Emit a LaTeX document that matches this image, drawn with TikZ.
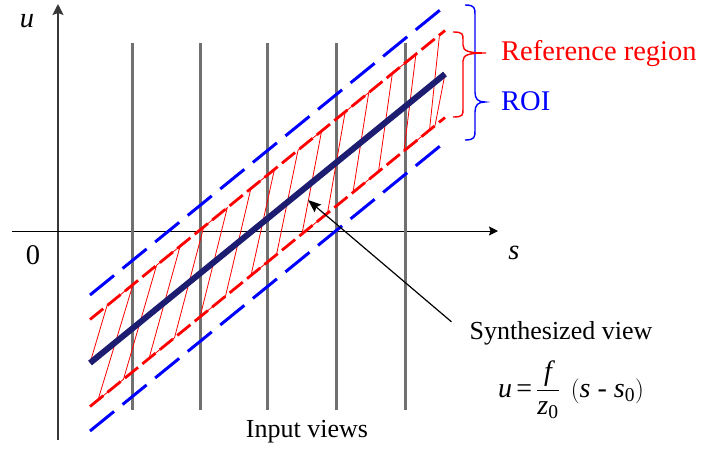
\documentclass[tikz,border=0pt]{standalone}
\usepackage{amsmath}
\usepackage{fontspec}
\setmainfont{Liberation Serif}
\usetikzlibrary{arrows.meta,calc}
\definecolor{navyline}{RGB}{28,28,112}
\definecolor{vgray}{RGB}{112,112,112}
\definecolor{axgray}{RGB}{55,55,55}
\definecolor{pred}{RGB}{255,0,0}
\definecolor{pblue}{RGB}{0,0,255}
\tikzset{
  axisline/.style={line width=1.4pt, draw=axgray},
  viewline/.style={line width=3pt, draw=vgray},
  thinred/.style={line width=0.8pt, draw=pred, line join=miter},
  reddash/.style={line width=2.8pt, draw=pred, dash pattern=on 17pt off 5.5pt},
  bluedash/.style={line width=3pt, draw=pblue, dash pattern=on 31pt off 11pt},
  synthline/.style={line width=6pt, draw=navyline},
  bracepath/.style={line width=1.4pt},
  lbl/.style={inner sep=0pt, font=\fontsize{26}{30}\selectfont},
  biglbl/.style={inner sep=0pt, font=\fontsize{28.5}{32}\selectfont},
}
\begin{document}
\begin{tikzpicture}[x=1pt,y=-1pt]
\useasboundingbox (0,0) rectangle (704,451);
% axes
\coordinate (uaxbot) at (58,440);
\coordinate (uaxtop) at (58,4);
\coordinate (saxl) at (12,231);
\coordinate (saxr) at (498,231);
\draw[axisline, -{Stealth[length=11pt,width=11pt,inset=2pt]}] (uaxbot) -- (uaxtop);
\draw[line width=1pt, draw=black, -{Stealth[length=9pt,width=9pt,inset=1.5pt]}] (saxl) -- (saxr);
% input views
\foreach \xv [count=\i] in {132,200,267.5,336.5,405} {
  \coordinate (vt\i) at (\xv,43);
  \coordinate (vb\i) at (\xv,410);
  \draw[viewline] (vt\i) -- (vb\i);
}
% band geometry: navy y(x) = 363 - 0.8141 (x-90)
\coordinate (N0) at (90,363);
\coordinate (N1) at (445,74);
\foreach \k in {0,...,13} {
  \pgfmathsetmacro{\xl}{98+25.5*\k}
  \pgfmathsetmacro{\xu}{\xl+35-25*\k/13}
  \pgfmathsetmacro{\yl}{363-0.8141*(\xl-90)+43.5}
  \pgfmathsetmacro{\yu}{363-0.8141*(\xu-90)-43.5}
  \coordinate (L\k) at (\xl,\yl);
  \coordinate (U\k) at (\xu,\yu);
}
\pgfmathsetmacro{\ysu}{363-0.8141*(107-90)-43.5}
\coordinate (Us) at (107,\ysu);
\pgfmathsetmacro{\yle}{363-0.8141*(435-90)+43.5}
\coordinate (Le) at (435,\yle);
% reference-region hatch
\draw[thinred] (N0) -- (Us) -- (U0) -- (L0) -- (L1) -- (U1) -- (U2) -- (L2) -- (L3) -- (U3) -- (U4) -- (L4) -- (L5) -- (U5) -- (U6) -- (L6) -- (L7) -- (U7) -- (U8) -- (L8) -- (L9) -- (U9) -- (U10) -- (L10) -- (L11) -- (U11) -- (U12) -- (L12) -- (L13) -- (U13);
\draw[thinred] (Le) -- (N1);
% red dashed boundaries
\coordinate (RU0) at (90,319.5);
\coordinate (RU1) at (445,30.5);
\coordinate (RL0) at (90,406.5);
\coordinate (RL1) at (445,117.5);
\draw[reddash] (RU0) -- (RU1);
\draw[reddash] (RL0) -- (RL1);
% blue dashed boundaries
\coordinate (BU0) at (90,295);
\coordinate (BU1) at (445,6);
\coordinate (BL0) at (90,431);
\coordinate (BL1) at (445,142);
\draw[bluedash] (BU0) -- (BU1);
\draw[bluedash] (BL0) -- (BL1);
% synthesized view line
\draw[synthline] (N0) -- (N1);
% braces
\draw[bracepath, draw=pblue] (465,5) .. controls (475,5) and (475,8) .. (475,15) -- (475,92) .. controls (475,99) and (478,102) .. (485,102) .. controls (478,102) and (475,105) .. (475,112) -- (475,130) .. controls (475,137) and (475,140) .. (465,140);
\draw[bracepath, draw=pred] (453,32) .. controls (463,32) and (463,34) .. (463,40) -- (463,45) .. controls (463,51) and (468,53) .. (486,53) .. controls (468,53) and (463,55) .. (463,61) -- (463,109) .. controls (463,115) and (463,117) .. (453,117);
% labels
\node[biglbl, anchor=base] (ulbl) at (27,27) {\textit{u}};
\node[biglbl, anchor=base] (zero) at (33,264) {0};
\node[biglbl, anchor=base] (slbl) at (514,259) {\textit{s}};
\node[biglbl, anchor=base west, text=pred] (refreg) at (501,60) {Reference region};
\node[biglbl, anchor=base west, text=pblue] (roi) at (501,110) {ROI};
\node[lbl, anchor=base] (synth) at (561,339) {Synthesized view};
\node[inner sep=0pt, font=\fontsize{28}{32}\selectfont, anchor=base] (formula) at (571,397) {$\textit{u}\,\text{=}\,\dfrac{\textit{f}}{\textit{z}_{\text{0}}}\;\,(\textit{s}\ \text{-}\ \textit{s}_{\text{0}})$};
\node[lbl, anchor=base] (inviews) at (307,437) {Input views};
% pointer
\coordinate (tip) at (308,200);
\draw[line width=1.2pt, -{Stealth[length=13pt,width=10pt,inset=2pt]}] ($(synth.west)+(-18,-11)$) -- (tip);
\end{tikzpicture}
\end{document}
